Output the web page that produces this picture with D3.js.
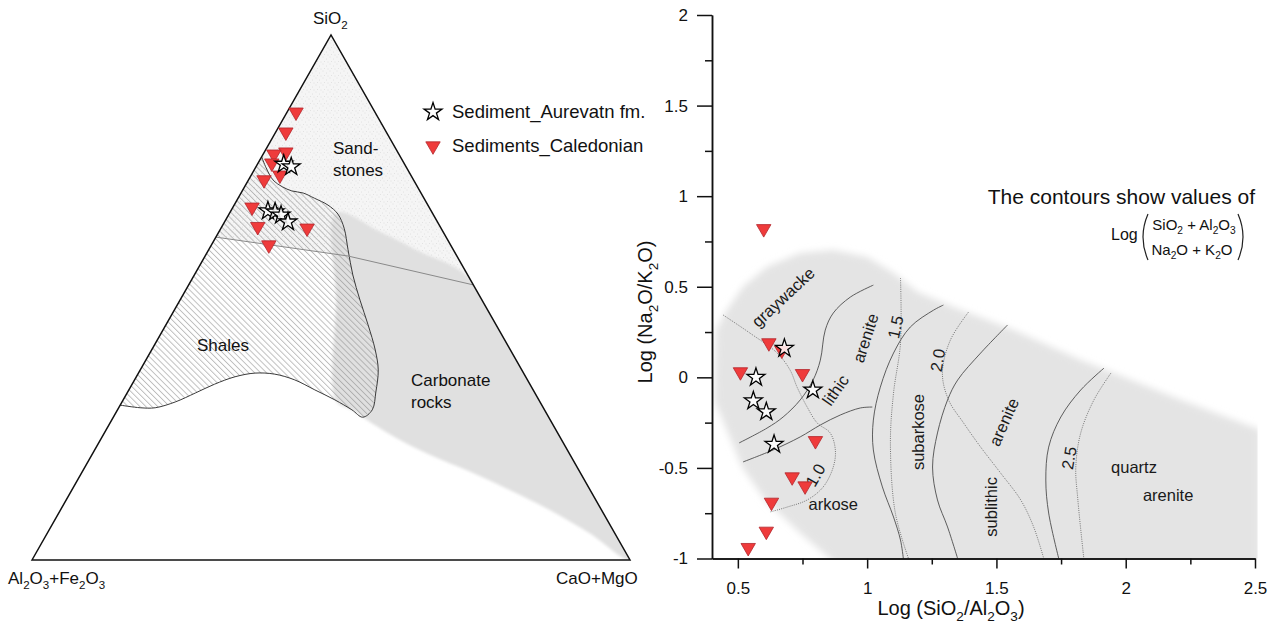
<!DOCTYPE html>
<html>
<head>
<meta charset="utf-8">
<script src="https://cdn.jsdelivr.net/npm/d3@7"></script>
<style>
  html, body { margin: 0; padding: 0; background: #fff; }
  svg { display: block; font-family: "Liberation Sans", Arial, Helvetica, sans-serif; }
</style>
</head>
<body>
<svg id="chart" width="1285" height="626"></svg>
<script>
// ===== Ternary diagram: SiO2 – (Al2O3+Fe2O3) – (CaO+MgO), wt% =====
const calSiO2 = [85.3, 81.5, 77.7, 77.3, 75.6, 73.3, 72.4, 67.2, 63.5, 60.0, 63.2];
const calAlFe = [13.2, 16.8, 18.7, 20.9, 22.1, 21.9, 25.0, 29.6, 30.5, 30.4, 22.4];
const calCaMg = [1.5, 1.7, 3.6, 1.8, 2.3, 4.8, 2.6, 3.2, 6.0, 9.6, 14.4];

const aurSiO2 = [75.4, 74.9, 66.5, 66.3, 65.7, 64.4];
const aurAlFe = [20.2, 19.2, 27.3, 26.2, 25.5, 25.0];
const aurCaMg = [4.4, 5.9, 6.2, 7.5, 8.8, 10.6];

// field outlines as [SiO2, CaO+MgO]; the remainder is Al2O3+Fe2O3
const shaleField = [
  [76.8, 0], [74.7, 1.8], [72.4, 4.1], [71.1, 6.3], [70.3, 8.3], [69.9, 10.4],
  [68.9, 12.8], [67.6, 15.7], [65.9, 18.2], [63.2, 20.6], [59.1, 23.3], [54.3, 26.5],
  [49.5, 30.1], [44.8, 33.8], [40.0, 37.4], [36.2, 39.8], [32.0, 41.5], [28.6, 42.6],
  [27.2, 41.7], [28.6, 39.2], [30.5, 35.4], [32.4, 31.1], [34.3, 26.8], [35.4, 22.9],
  [35.6, 19.5], [34.9, 16.5], [33.5, 13.8], [31.8, 11.4], [30.1, 8.9], [29.0, 6.1],
  [29.0, 3.6], [29.5, 0]
];
const carbonateField = [
  [66.1, 17.8], [62.5, 27.0], [58.7, 35.5], [53.5, 46.5], [0, 100],
  [5.1, 90.7], [9.5, 81.9], [13.3, 73.3], [16.8, 64.9], [20.0, 56.6], [23.4, 49.0],
  [27.2, 41.7], [28.6, 39.2], [30.3, 35.7], [49.5, 26.1]
];
const sandstoneLimit = [[61.5, 0], [57.9, 23.9], [52.4, 47.6]];

// ===== Log(SiO2/Al2O3) vs Log(Na2O/K2O) classification =====
const calLogSiAl = [0.60, 0.62, 0.67, 0.51, 0.75, 0.80, 0.71, 0.76, 0.63, 0.61, 0.54];
const calLogNaK  = [0.82, 0.19, 0.15, 0.03, 0.02, -0.35, -0.55, -0.60, -0.69, -0.85, -0.94];
const aurLogSiAl = [0.68, 0.57, 0.56, 0.61, 0.79, 0.64];
const aurLogNaK  = [0.16, 0.00, -0.13, -0.19, -0.07, -0.37];

const xTicks = [0.5, 1, 1.5, 2, 2.5];
const xTickLabels = ["0.5", "1", "1.5", "2", "2.5"];
const xMinor = [0.75, 1.25, 1.75, 2.25];
const yTicks = [-1, -0.5, 0, 0.5, 1, 1.5, 2];
const yTickLabels = ["-1", "-0.5", "0", "0.5", "1", "1.5", "2"];
const yMinor = [-0.75, -0.25, 0.25, 0.75, 1.25, 1.75];

// shaded sandstone field
const sandField = [
  [0.41, -0.13], [0.416, 0.26], [0.45, 0.355], [0.52, 0.50], [0.613, 0.61], [0.741, 0.686],
  [0.869, 0.703], [1.0, 0.664], [1.102, 0.576], [1.195, 0.471], [1.334, 0.388], [1.567, 0.261],
  [1.826, 0.095], [1.954, 0.024], [2.214, -0.125], [2.52, -0.29], [2.52, -1.05],
  [0.896, -1.05], [0.741, -0.859], [0.605, -0.677], [0.516, -0.495], [0.462, -0.307]
];
// class boundaries (solid)
const boundLithic = [[1.024, 0.509], [0.935, 0.443], [0.869, 0.355], [0.838, 0.261], [0.819, 0.095],
  [0.791, -0.015], [0.741, -0.125], [0.675, -0.219], [0.613, -0.280], [0.505, -0.362]];
const boundArkose = [[0.520, -0.467], [0.636, -0.401], [0.741, -0.329], [0.819, -0.263],
  [0.896, -0.208], [0.974, -0.169], [1.020, -0.164]];
const boundSubarkose = [[1.295, 0.399], [1.257, 0.371], [1.167, 0.278], [1.102, 0.134], [1.051, -0.054],
  [1.024, -0.236], [1.024, -0.401], [1.059, -0.605], [1.102, -0.771], [1.129, -0.898], [1.140, -1.0]];
const boundSublithic = [[1.543, 0.289], [1.439, 0.134], [1.350, -0.015], [1.311, -0.125], [1.272, -0.307],
  [1.253, -0.495], [1.272, -0.677], [1.311, -0.826], [1.350, -1.0]];
const boundQuartz = [[1.916, 0.051], [1.826, -0.070], [1.749, -0.219], [1.702, -0.385], [1.691, -0.567],
  [1.702, -0.749], [1.741, -1.0]];
// contours of Log((SiO2+Al2O3)/(Na2O+K2O)) (dotted)
const contour10 = [[0.443, 0.344], [0.547, 0.244], [0.652, 0.134], [0.702, 0.040], [0.729, -0.054],
  [0.768, -0.164], [0.807, -0.252], [0.857, -0.307], [0.877, -0.401], [0.869, -0.495],
  [0.830, -0.605], [0.768, -0.677], [0.691, -0.716], [0.625, -0.743]];
const contour15 = [[1.129, 0.548], [1.129, 0.189], [1.102, -0.087], [1.090, -0.362], [1.109, -0.749], [1.160, -1.0]];
const contour20 = [[1.392, 0.360], [1.322, 0.206], [1.291, 0.024], [1.315, -0.125], [1.373, -0.252],
  [1.439, -0.385], [1.516, -0.528], [1.594, -0.677], [1.644, -0.826], [1.683, -1.0]];
const contour25 = [[1.943, 0.024], [1.877, -0.125], [1.826, -0.307], [1.807, -0.495], [1.815, -0.677], [1.838, -1.0]];

const fieldLabels = [
  { t: "graywacke", x: 0.675, y: 0.443, a: -43 },
  { t: "arenite", x: 0.993, y: 0.217, a: -72 },
  { t: "1.5", x: 1.109, y: 0.278, a: -78 },
  { t: "lithic", x: 0.877, y: -0.07, a: -55 },
  { t: "2.0", x: 1.272, y: 0.095, a: -80 },
  { t: "subarkose", x: 1.195, y: -0.302, a: -90 },
  { t: "arenite", x: 1.528, y: -0.246, a: -66 },
  { t: "sublithic", x: 1.478, y: -0.715, a: -90 },
  { t: "2.5", x: 1.780, y: -0.445, a: -80 },
  { t: "quartz", x: 2.032, y: -0.495, a: 0 },
  { t: "arenite", x: 2.164, y: -0.650, a: 0 },
  { t: "arkose", x: 0.869, y: -0.699, a: 0 },
  { t: "1.0", x: 0.799, y: -0.539, a: -60 }
];

// ===== drawing =====
const svg = d3.select("#chart");
const defs = svg.append("defs");

const RED = "#ef3b3b", RED_EDGE = "#b3252b";
const starPath = d3.symbol().type(d3.symbolStar).size(100)();
const triPath = d3.symbol().type(d3.symbolTriangle).size(90)();

// text with chemical subscripts
function rich(sel, parts, fs) {
  let down = false;
  parts.forEach(([t, sub]) => {
    const ts = sel.append("tspan").text(t);
    if (sub) {
      ts.attr("font-size", fs * 0.68);
      if (!down) { ts.attr("dy", fs * 0.28); down = true; }
    } else if (down) {
      ts.attr("dy", -fs * 0.28); down = false;
    }
  });
  return sel;
}

// patterns and filters
const hatch = defs.append("pattern").attr("id", "hatch").attr("patternUnits", "userSpaceOnUse")
  .attr("width", 4.2).attr("height", 10).attr("patternTransform", "rotate(-45)");
hatch.append("line").attr("x1", 0.5).attr("y1", 0).attr("x2", 0.5).attr("y2", 10)
  .attr("stroke", "#8c8c8c").attr("stroke-width", 0.6);

const stip = defs.append("pattern").attr("id", "stipple").attr("patternUnits", "userSpaceOnUse")
  .attr("width", 7).attr("height", 7);
stip.append("rect").attr("width", 7).attr("height", 7).attr("fill", "#f5f5f5");
[[1, 1], [4.5, 3], [2.5, 5.5], [6, 6]].forEach(([a, b]) =>
  stip.append("circle").attr("cx", a).attr("cy", b).attr("r", 0.45).attr("fill", "#cfcfcf"));

const soft = defs.append("filter").attr("id", "soft")
  .attr("x", "-10%").attr("y", "-10%").attr("width", "120%").attr("height", "120%");
soft.append("feGaussianBlur").attr("stdDeviation", 3.5);
const soft2 = defs.append("filter").attr("id", "soft2")
  .attr("x", "-10%").attr("y", "-10%").attr("width", "120%").attr("height", "120%");
soft2.append("feGaussianBlur").attr("stdDeviation", 1.6);

// ---------- ternary ----------
const tX = d3.scaleLinear().domain([0, 100]).range([32, 630]);
const tY = d3.scaleLinear().domain([0, 100]).range([560, 35]);
function tern(si, al, ca) {
  const tot = si + al + ca, s = si / tot * 100, c = ca / tot * 100;
  return [tX(c + s / 2), tY(s)];
}
const fieldPt = ([s, c]) => tern(s, 100 - s - c, c);
const tLine = d3.line();

const tg = svg.append("g");
defs.append("clipPath").attr("id", "triClip").append("path")
  .attr("d", tLine([tern(0, 100, 0), tern(100, 0, 0), tern(0, 0, 100)]) + "Z");

// sandstone field (above the limit line)
const sandPoly = [fieldPt([100, 0])].concat(sandstoneLimit.map(fieldPt));
tg.append("path").attr("d", tLine(sandPoly) + "Z").attr("fill", "url(#stipple)");

// carbonate field
tg.append("g").attr("clip-path", "url(#triClip)").append("path")
  .attr("d", d3.line().curve(d3.curveCatmullRomClosed.alpha(0.5))(carbonateField.map(fieldPt)))
  .attr("fill", "#e0e0e0").attr("filter", "url(#soft2)");

// shale field
tg.append("path").attr("d", tLine(shaleField.map(fieldPt)) + "Z").attr("fill", "url(#hatch)");
tg.append("path").attr("d", d3.line().curve(d3.curveCatmullRom.alpha(0.5))(shaleField.map(fieldPt)))
  .attr("fill", "none").attr("stroke", "#3a3a3a").attr("stroke-width", 1);

// sandstone limit
tg.append("path").attr("d", tLine(sandstoneLimit.map(fieldPt)))
  .attr("fill", "none").attr("stroke", "#8a8a8a").attr("stroke-width", 1);

// triangle frame
tg.append("path").attr("d", tLine([tern(0, 100, 0), tern(100, 0, 0), tern(0, 0, 100)]) + "Z")
  .attr("fill", "none").attr("stroke", "#111").attr("stroke-width", 1.5);

// samples
tg.selectAll(".tcal").data(calSiO2.map((v, i) => tern(v, calAlFe[i], calCaMg[i]))).join("path")
  .attr("d", triPath).attr("transform", d => `translate(${d[0]},${d[1]}) rotate(180)`)
  .attr("fill", RED).attr("stroke", RED_EDGE).attr("stroke-width", 0.8);
tg.selectAll(".taur").data(aurSiO2.map((v, i) => tern(v, aurAlFe[i], aurCaMg[i]))).join("path")
  .attr("d", starPath).attr("transform", d => `translate(${d[0]},${d[1]})`)
  .attr("fill", "#fff").attr("fill-opacity", 0.85).attr("stroke", "#000").attr("stroke-width", 1.3);

// ternary labels
const tfs = 17;
rich(tg.append("text").attr("x", 313).attr("y", 24).attr("font-size", tfs).attr("fill", "#111"),
  [["SiO"], ["2", true]], tfs);
rich(tg.append("text").attr("x", 8).attr("y", 584).attr("font-size", tfs).attr("fill", "#111"),
  [["Al"], ["2", true], ["O"], ["3", true], ["+Fe"], ["2", true], ["O"], ["3", true]], tfs);
tg.append("text").attr("x", 556).attr("y", 584).attr("font-size", tfs).attr("fill", "#111").text("CaO+MgO");
tg.append("text").attr("x", 333).attr("y", 154).attr("font-size", tfs).attr("fill", "#111").text("Sand-");
tg.append("text").attr("x", 333).attr("y", 176).attr("font-size", tfs).attr("fill", "#111").text("stones");
tg.append("text").attr("x", 197).attr("y", 351).attr("font-size", tfs).attr("fill", "#111").text("Shales");
tg.append("text").attr("x", 411).attr("y", 386).attr("font-size", tfs).attr("fill", "#111").text("Carbonate");
tg.append("text").attr("x", 411).attr("y", 408).attr("font-size", tfs).attr("fill", "#111").text("rocks");

// legend
const lg = svg.append("g");
lg.append("path").attr("d", starPath).attr("transform", "translate(433,112)")
  .attr("fill", "#fff").attr("stroke", "#000").attr("stroke-width", 1.3);
lg.append("path").attr("d", triPath).attr("transform", "translate(433,146) rotate(180)")
  .attr("fill", RED).attr("stroke", RED_EDGE).attr("stroke-width", 0.8);
lg.append("text").attr("x", 452).attr("y", 118).attr("font-size", 18.5).attr("fill", "#111").text("Sediment_Aurevatn fm.");
lg.append("text").attr("x", 452).attr("y", 152).attr("font-size", 18.5).attr("fill", "#111").text("Sediments_Caledonian");

// ---------- log-ratio diagram ----------
const x = d3.scaleLinear().domain([0.4, 2.5]).range([712, 1255]);
const y = d3.scaleLinear().domain([-1, 2]).range([558.5, 15]);
const g = svg.append("g");

defs.append("clipPath").attr("id", "plotClip").append("rect")
  .attr("x", x(0.4)).attr("y", 0).attr("width", x(2.51) - x(0.4)).attr("height", y(-1));

g.append("g").attr("clip-path", "url(#plotClip)").append("path")
  .attr("d", d3.line().x(d => x(d[0])).y(d => y(d[1])).curve(d3.curveLinearClosed)(sandField))
  .attr("fill", "#e4e4e4").attr("filter", "url(#soft)");

const cLine = d3.line().x(d => x(d[0])).y(d => y(d[1])).curve(d3.curveCatmullRom.alpha(0.5));
[boundLithic, boundArkose, boundSubarkose, boundSublithic, boundQuartz].forEach(b =>
  g.append("path").attr("d", cLine(b)).attr("fill", "none").attr("stroke", "#4d4d4d").attr("stroke-width", 0.9));
[contour10, contour15, contour20, contour25].forEach(b =>
  g.append("path").attr("d", cLine(b)).attr("fill", "none").attr("stroke", "#6a6a6a")
    .attr("stroke-width", 0.9).attr("stroke-dasharray", "1,1.2"));

g.selectAll(".flab").data(fieldLabels).join("text")
  .attr("transform", d => `translate(${x(d.x)},${y(d.y)}) rotate(${d.a})`)
  .attr("text-anchor", "middle").attr("dominant-baseline", "central")
  .attr("font-size", 16.5).attr("fill", "#1a1a1a").text(d => d.t);

// axes
const axFs = 17;
g.append("g").attr("transform", `translate(${x(0.4)},0)`)
  .call(d3.axisLeft(y).tickValues(yTicks).tickFormat((d, i) => yTickLabels[i]).tickSize(15).tickSizeOuter(0).tickPadding(9));
g.append("g").attr("transform", `translate(${x(0.4)},0)`)
  .call(d3.axisLeft(y).tickValues(yMinor).tickFormat("").tickSize(7).tickSizeOuter(0));
g.append("g").attr("transform", `translate(0,${y(-1)})`)
  .call(d3.axisBottom(x).tickValues(xTicks).tickFormat((d, i) => xTickLabels[i]).tickSize(10).tickSizeOuter(0).tickPadding(13));
g.append("g").attr("transform", `translate(0,${y(-1)})`)
  .call(d3.axisBottom(x).tickValues(xMinor).tickFormat("").tickSize(6).tickSizeOuter(0));
g.selectAll(".domain").attr("stroke", "#111").attr("stroke-width", 1.5);
g.selectAll(".tick line").attr("stroke", "#111").attr("stroke-width", 1.5);
g.selectAll(".tick text").attr("font-size", axFs).attr("font-family", "Liberation Sans, Arial, sans-serif").attr("fill", "#111");

rich(g.append("text").attr("x", 951).attr("y", 615).attr("text-anchor", "middle").attr("font-size", 20).attr("fill", "#111"),
  [["Log (SiO"], ["2", true], ["/Al"], ["2", true], ["O"], ["3", true], [")"]], 20);
rich(g.append("text").attr("transform", "translate(652,312) rotate(-90)").attr("text-anchor", "middle")
  .attr("font-size", 20).attr("fill", "#111"),
  [["Log (Na"], ["2", true], ["O/K"], ["2", true], ["O)"]], 20);

// samples
g.selectAll(".cal").data(calLogSiAl.map((v, i) => [v, calLogNaK[i]])).join("path")
  .attr("d", triPath).attr("transform", d => `translate(${x(d[0])},${y(d[1])}) rotate(180)`)
  .attr("fill", RED).attr("stroke", RED_EDGE).attr("stroke-width", 0.8);
g.selectAll(".aur").data(aurLogSiAl.map((v, i) => [v, aurLogNaK[i]])).join("path")
  .attr("d", starPath).attr("transform", d => `translate(${x(d[0])},${y(d[1])})`)
  .attr("fill", "#fff").attr("fill-opacity", 0.85).attr("stroke", "#000").attr("stroke-width", 1.3);

// contour note
g.append("text").attr("x", 1255).attr("y", 204).attr("text-anchor", "end")
  .attr("font-size", 21).attr("fill", "#111").text("The contours show values of");
g.append("text").attr("x", 1111).attr("y", 240).attr("font-size", 16).attr("fill", "#111").text("Log");
rich(g.append("text").attr("x", 1194).attr("y", 230).attr("text-anchor", "middle").attr("font-size", 15).attr("fill", "#111"),
  [["SiO"], ["2", true], [" + Al"], ["2", true], ["O"], ["3", true]], 15);
rich(g.append("text").attr("x", 1192).attr("y", 255).attr("text-anchor", "middle").attr("font-size", 15).attr("fill", "#111"),
  [["Na"], ["2", true], ["O + K"], ["2", true], ["O"]], 15);
g.append("path").attr("d", "M1148,214 Q1138,237 1148,260").attr("fill", "none").attr("stroke", "#222").attr("stroke-width", 1.2);
g.append("path").attr("d", "M1238,214 Q1248,237 1238,260").attr("fill", "none").attr("stroke", "#222").attr("stroke-width", 1.2);
</script>
</body>
</html>
